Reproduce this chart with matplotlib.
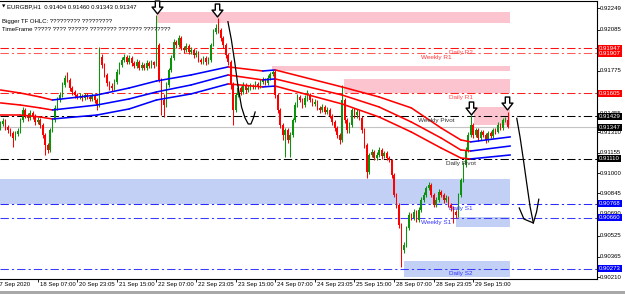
import numpy as np
import matplotlib
matplotlib.use('Agg')
import matplotlib.pyplot as plt
from matplotlib.path import Path
from matplotlib.patches import Rectangle
import matplotlib.transforms as mtransforms

plt.rcParams['font.family'] = ['Liberation Sans', 'DejaVu Sans']
plt.rcParams['lines.scale_dashes'] = False

# ---------------- data (prices in 1e-5 units) ----------------
first_open = 91310
closes = [
    91342, 91372, 91395, 91349, 91327, 91304, 91266, 91296, 91319, 91403,
    91478, 91440, 91418, 91456, 91433, 91387, 91403, 91365, 91289, 91213,
    91175, 91327, 91403, 91494, 91554, 91592, 91668, 91721, 91706, 91645,
    91615, 91592, 91577, 91585, 91569, 91592, 91577, 91562, 91585, 91554,
    91516, 91881, 91820, 91744, 91683, 91660, 91645, 91691, 91767, 91820,
    91858, 91881, 91843, 91873, 91835, 91812, 91843, 91797, 91820, 91797,
    91835, 91812, 91843, 91820, 91972, 91706, 91554, 91516, 91668, 91782,
    91873, 91994, 91972, 92025, 91949, 91934, 91964, 91918, 91934, 91896,
    91911, 91858, 91843, 91873, 91843, 91858, 91972, 92070, 92101, 92085,
    92025, 91972, 91896, 91843, 91668, 91478, 91592, 91645, 91615, 91668,
    91630, 91645, 91660, 91653, 91676, 91660, 91691, 91706, 91683, 91721,
    91752, 91767, 91592, 91478, 91365, 91289, 91327, 91251, 91289, 91403,
    91516, 91577, 91554, 91516, 91569, 91592, 91554, 91524, 91539, 91494,
    91478, 91501, 91463, 91478, 91433, 91387, 91342, 91289, 91251, 91554,
    91403, 91327, 91365, 91478, 91440, 91463, 91418, 91327, 91213, 91008,
    91137, 91160, 91114, 91137, 91175, 91129, 91152, 91114, 91099, 90985,
    90834, 90758, 90606, 90416, 90454, 90583, 90682, 90659, 90705, 90644,
    90720, 90796, 90834, 90887, 90909, 90834, 90758, 90796, 90856, 90834,
    90796, 90811, 90758, 90735, 90705, 90682, 90834, 90947, 91061, 91175,
    91289, 91365, 91289, 91327, 91266, 91311, 91289, 91251, 91304, 91281,
    91327, 91311, 91365, 91342, 91403, 91404, 91347,
]
highs = [
    91365, 91395, 91418, 91410, 91365, 91340, 91320, 91315, 91340, 91420,
    91500, 91490, 91455, 91475, 91470, 91445, 91425, 91415, 91380, 91300,
    91230, 91345, 91420, 91515, 91580, 91615, 91690, 91745, 91767, 91720,
    91660, 91630, 91605, 91605, 91600, 91610, 91610, 91590, 91605, 91600,
    91570, 91956, 91900, 91835, 91760, 91700, 91680, 91710, 91790, 91840,
    91880, 91905, 91895, 91895, 91890, 91850, 91865, 91860, 91840, 91835,
    91855, 91850, 91860, 91850, 92199, 91990, 91720, 91600, 91690, 91800,
    91895, 92015, 92010, 92047, 92040, 91965, 91985, 91980, 91955, 91950,
    91930, 91925, 91870, 91890, 91885, 91880, 91990, 92090, 92130, 92176,
    92100, 92040, 91985, 91910, 91860, 91690, 91610, 91665, 91660, 91690,
    91685, 91665, 91680, 91675, 91695, 91690, 91710, 91725, 91720, 91740,
    91770, 91782, 91780, 91605, 91490, 91380, 91345, 91340, 91310, 91420,
    91535, 91600, 91590, 91570, 91590, 91630, 91605, 91570, 91560, 91555,
    91510, 91520, 91515, 91500, 91490, 91445, 91400, 91355, 91300, 91668,
    91570, 91415, 91385, 91495, 91490, 91485, 91480, 91430, 91340, 91225,
    91155, 91180, 91175, 91160, 91195, 91190, 91170, 91165, 91130, 91110,
    91000, 90850, 90775, 90620, 90480, 90600, 90705, 90700, 90725, 90720,
    90740, 90815, 90855, 90905, 90930, 90925, 90850, 90815, 90875, 90870,
    90850, 90830, 90825, 90775, 90750, 90720, 90850, 90965, 91080, 91195,
    91310, 91440, 91380, 91345, 91340, 91330, 91325, 91305, 91320, 91320,
    91345, 91340, 91385, 91380, 91420, 91425, 91460,
]
lows = [
    91290, 91325, 91360, 91330, 91305, 91280, 91198, 91250, 91280, 91305,
    91390, 91420, 91395, 91400, 91410, 91365, 91370, 91340, 91265, 91137,
    91150, 91160, 91310, 91390, 91480, 91540, 91575, 91650, 91690, 91625,
    91595, 91570, 91560, 91560, 91550, 91555, 91560, 91545, 91545, 91530,
    91478, 91500, 91800, 91725, 91660, 91630, 91620, 91630, 91675, 91750,
    91805, 91840, 91825, 91830, 91815, 91795, 91800, 91780, 91780, 91780,
    91785, 91795, 91800, 91800, 91810, 91690, 91440, 91425, 91500, 91650,
    91765, 91860, 91950, 91955, 91930, 91910, 91915, 91900, 91900, 91875,
    91880, 91840, 91825, 91830, 91820, 91825, 91845, 91960, 92055, 92065,
    92005, 91950, 91875, 91820, 91640, 91365, 91460, 91575, 91595, 91600,
    91610, 91615, 91630, 91635, 91640, 91640, 91645, 91675, 91665, 91670,
    91705, 91735, 91570, 91455, 91340, 91250, 91122, 91225, 91122, 91275,
    91390, 91500, 91535, 91495, 91500, 91550, 91535, 91505, 91505, 91475,
    91455, 91460, 91445, 91445, 91415, 91365, 91320, 91265, 91220, 91235,
    91380, 91300, 91305, 91350, 91420, 91420, 91400, 91300, 91190, 90962,
    90995, 91120, 91095, 91100, 91120, 91110, 91115, 91095, 91080, 90965,
    90815, 90735, 90580, 90287, 90395, 90440, 90565, 90640, 90640, 90625,
    90630, 90705, 90780, 90820, 90870, 90815, 90740, 90740, 90780, 90815,
    90775, 90780, 90740, 90715, 90621, 90660, 90665, 90820, 90930, 91045,
    91160, 91270, 91265, 91270, 91245, 91250, 91270, 91230, 91235, 91265,
    91265, 91295, 91300, 91325, 91330, 91385, 91343,
]

# moving-average channel read at sample bars
ma_bars = [1, 9, 17, 22, 40, 53, 64, 78, 93, 107, 112, 139, 154, 167, 179, 187, 191, 207]
ma_upper = [91630, 91607, 91577, 91554, 91592, 91645, 91698, 91744, 91805, 91774,
            91782, 91653, 91577, 91494, 91342, 91251, 91236, 91274]
ma_middle = [91532, 91516, 91494, 91478, 91516, 91562, 91615, 91668, 91744, 91706,
             91714, 91592, 91501, 91387, 91266, 91175, 91167, 91205]
ma_lower = [91440, 91440, 91425, 91410, 91440, 91486, 91554, 91600, 91676, 91653,
            91660, 91524, 91425, 91311, 91190, 91114, 91107, 91137]

# pivot levels
level_names = ['Daily R2', 'Weekly R1', 'Daily R1', 'Weekly Pivot', 'Daily Pivot',
               'Daily S1', 'Weekly S1', 'Daily S2']
level_prices = [0.91947, 0.91907, 0.91605, 0.91429, 0.91110, 0.90768, 0.90660, 0.90273]
level_line_colors = ['#ff1010', '#ff5a5a', '#ff2020', '#000000', '#000000',
                     '#2a2aff', '#3a3aff', '#3a3aff']
level_text_colors = ['#ff4848', '#ff3a3a', '#ff4848', '#333333', '#333333',
                     '#3535ff', '#3535ff', '#3535ff']
level_label_bar = [187, 177, 187, 177, 187, 187, 177, 187]

bid_price = 0.91347

# supply / demand zones
zone_start = [64.2, 110.7, 139.8, 192.3, -2.0, 185.0, 164.0]
zone_end = [206.9, 206.9, 206.9, 206.9, 206.9, 206.9, 206.9]
zone_lo = [0.92135, 0.91774, 0.91607, 0.91365, 0.90765, 0.90591, 0.90211]
zone_hi = [0.92218, 0.91812, 0.91713, 0.91501, 0.90955, 0.90667, 0.90333]
zone_kind = ['supply', 'supply', 'supply', 'supply', 'demand', 'demand', 'demand']

# arrows and hand drawn strokes
arrow_bars = [64.2, 88.5, 191.3, 205.5]
arrow_prices = [0.92262, 0.92233, 0.91497, 0.91533]
stroke1_bars = [92.9, 94.3, 95.7, 97.0, 98.4, 99.8, 101.1, 102.2, 103.2, 103.9]
stroke1_prices = [0.92148, 0.92010, 0.91835, 0.91653, 0.91501, 0.91418, 0.91372,
                  0.91372, 0.91418, 0.91463]
stroke2_bars = [209.6, 210.9, 212.3, 213.6, 215.0, 216.3]
stroke2_prices = [0.91415, 0.91276, 0.91099, 0.90925, 0.90743, 0.90621]
head_bars = [210.6, 212.5, 216.3, 217.6, 218.5]
head_prices = [0.90735, 0.90651, 0.90621, 0.90705, 0.90801]

axis_ticks = [0.92249, 0.92085, 0.91775, 0.91455, 0.91310, 0.91155, 0.91000,
              0.90845, 0.90690, 0.90525, 0.90365, 0.90210]
badge_prices = [0.91947, 0.91907, 0.91605, 0.91429, 0.91347, 0.91110, 0.90768,
                0.90660, 0.90273]
badge_colors = ['#ff0000', '#ff0000', '#ff0000', '#000000', '#000000', '#000000',
                '#0000ff', '#0000ff', '#0000ff']

time_bars = [0, 16, 32, 48, 64, 80, 96, 112, 128, 144, 160, 176, 192]
time_labels = ['17 Sep 2020', '18 Sep 07:00', '20 Sep 23:05', '21 Sep 15:00',
               '22 Sep 07:00', '22 Sep 23:05', '23 Sep 15:00', '24 Sep 07:00',
               '24 Sep 23:05', '25 Sep 15:00', '28 Sep 07:00', '28 Sep 23:05',
               '29 Sep 15:00']

# ---------------- figure ----------------
W, H = 625, 294
fig = plt.figure(figsize=(W / 100, H / 100), dpi=100)
fig.patch.set_facecolor('white')
ax = fig.add_axes([0, 15 / H, 597 / W, 278 / H])
ax.set_facecolor('white')
ax.set_xlim(0.808, 242.02)
ax.set_ylim(0.90196, 0.92305)

for s in ['left']:
    ax.spines[s].set_visible(False)
for s in ['top', 'right', 'bottom']:
    ax.spines[s].set_linewidth(0.8)
    ax.spines[s].set_color('black')

c = np.array(closes) / 1e5
o = np.array([first_open] + closes[:-1]) / 1e5
h = np.array(highs) / 1e5
l = np.array(lows) / 1e5
x = np.arange(len(c))

# zones
pink = '#fcc4cf'
lblue = '#c2d0f5'
for xs, xe, lo, hi, k in zip(zone_start, zone_end, zone_lo, zone_hi, zone_kind):
    ax.add_patch(Rectangle((xs, lo), xe - xs, hi - lo,
                           facecolor=pink if k == 'supply' else lblue,
                           edgecolor='none', zorder=1))

# level lines
for p, lc in zip(level_prices, level_line_colors):
    ax.axhline(p, color=lc, lw=0.75, ls=(0, (6.0, 2.2, 1.6, 2.2)), zorder=2)
ax.axhline(bid_price, color='#c4c4c4', lw=0.8, zorder=2)

# MA channel
ma_b = np.array(ma_bars, dtype=float)
mu = np.array(ma_upper) / 1e5
mm = np.array(ma_middle) / 1e5
ml = np.array(ma_lower) / 1e5
for i in range(len(ma_b) - 1):
    col = '#0000ff' if mm[i + 1] > mm[i] else '#ff0000'
    for arr in (mu, mm, ml):
        ax.plot(ma_b[i:i + 2], arr[i:i + 2], color=col, lw=1.15,
                solid_capstyle='round', zorder=5)

# candles
bull = '#0c930c'
bear = '#ff0000'
up = c >= o
cols = np.where(up, bull, bear)
ax.vlines(x, l, h, colors=cols, lw=0.75, zorder=3)
ax.bar(x, np.maximum(np.abs(c - o), 0.00003), bottom=np.minimum(o, c),
       width=0.62, color=cols, lw=0, zorder=4)

# level labels
off_dn = mtransforms.ScaledTranslation(0, -4.5 / 100, fig.dpi_scale_trans)
for name, p, tc, lb in zip(level_names, level_prices, level_text_colors, level_label_bar):
    ax.text(lb, p, name, color=tc, fontsize=4.6, ha='center', va='center',
            transform=ax.transData + off_dn, zorder=6)

# hand-drawn strokes
ax.plot(stroke1_bars, stroke1_prices, color='black', lw=0.9, zorder=7)
ax.plot(stroke2_bars, stroke2_prices, color='black', lw=0.9, zorder=7, clip_on=False)
ax.plot(head_bars, head_prices, color='black', lw=0.9, zorder=7, clip_on=False)

# hollow down arrows
arrow_path = Path([(-0.17, 0.5), (0.17, 0.5), (0.17, 0.03), (0.42, 0.03), (0.0, -0.5),
                   (-0.42, 0.03), (-0.17, 0.03), (-0.17, 0.5)],
                  [Path.MOVETO] + [Path.LINETO] * 6 + [Path.CLOSEPOLY])
ax.plot(arrow_bars, arrow_prices, ls='none', marker=arrow_path, ms=9.3,
        mfc='white', mec='black', mew=1.0, zorder=8, clip_on=False)

# y axis (right)
ax.yaxis.tick_right()
ax.set_yticks(axis_ticks)
ax.set_yticklabels([])
ax.tick_params(axis='y', length=2, width=0.6, direction='out', colors='black')
ytr = mtransforms.blended_transform_factory(ax.transAxes, ax.transData)
off_r = mtransforms.ScaledTranslation(3 / 100, 0, fig.dpi_scale_trans)
for p in axis_ticks:
    ax.text(1.0, p, f'{p:.5f}', fontsize=4.3, ha='left', va='center',
            transform=ytr + off_r, clip_on=False, zorder=9)
off_b = mtransforms.ScaledTranslation(2.2 / 100, 0, fig.dpi_scale_trans)
for p, bc in zip(badge_prices, badge_colors):
    ax.text(1.0, p, f'{p:.5f}', fontsize=4.3, ha='left', va='center', color='white',
            transform=ytr + off_b, clip_on=False, zorder=20,
            bbox=dict(boxstyle='square,pad=0.18', fc=bc, ec='none'))

# x axis
ax.set_xticks(time_bars[1:])
ax.set_xticklabels([])
ax.tick_params(axis='x', length=2.2, width=0.6, direction='out', colors='black')
xtr = ax.get_xaxis_transform()
for i, (b, t) in enumerate(zip(time_bars, time_labels)):
    dx = 2.0 if i > 0 else -2.0
    tr = xtr + mtransforms.ScaledTranslation(dx / 100, -5.5 / 100, fig.dpi_scale_trans)
    ax.text(b, 0, t, fontsize=4.3, ha='left', va='center', transform=tr,
            clip_on=False)

# header texts
fig.text(1.5 / W, 1 - 6.5 / H, '\u25bc', fontsize=3.2, ha='left', va='center',
         family=['DejaVu Sans'])
fig.text(6.7 / W, 1 - 6.5 / H, 'EURGBP,H1  0.91404 0.91460 0.91343 0.91347',
         fontsize=4.3, ha='left', va='center')
fig.text(1.7 / W, 1 - 21.5 / H, 'Bigger TF OHLC: ????????? ?????????',
         fontsize=4.3, ha='left', va='center')
fig.text(1.7 / W, 1 - 29.5 / H, 'TimeFrame ????? ???? ?????? ???????? ??????? ????????',
         fontsize=4.3, ha='left', va='center')

# bottom window strip
fig.patches.append(Rectangle((0, 0), 1, 3 / H, transform=fig.transFigure,
                             facecolor='#a8a8a8', edgecolor='none'))

fig.savefig('out.png', dpi=100)
